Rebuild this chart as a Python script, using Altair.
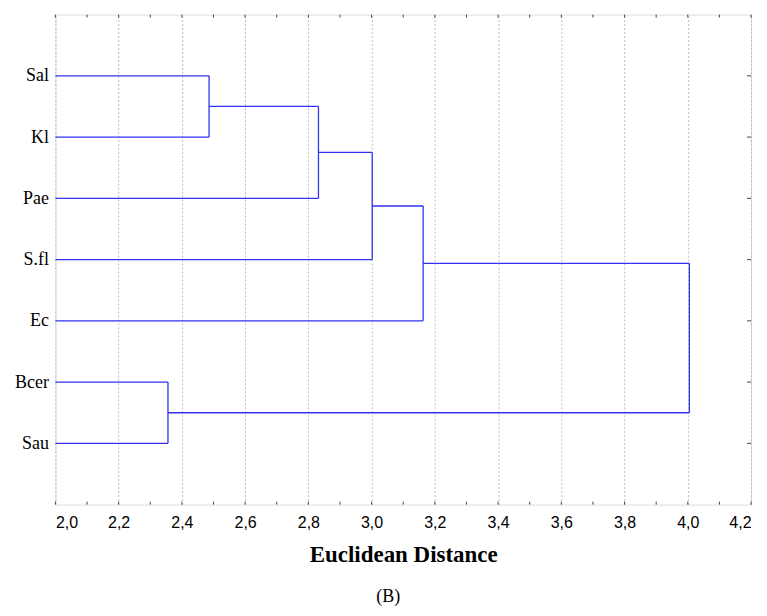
import altair as alt
import pandas as pd

# ---- data ----
leaves = ["Sal", "Kl", "Pae", "S.fl", "Ec", "Bcer", "Sau"]
merge_left = ["Sal", "C1", "C2", "C3", "Bcer", "C4"]
merge_right = ["Kl", "Pae", "S.fl", "Ec", "Sau", "C5"]
merge_height = [2.486, 2.832, 3.002, 3.163, 2.356, 4.005]

x_major_ticks = [2.0, 2.2, 2.4, 2.6, 2.8, 3.0, 3.2, 3.4, 3.6, 3.8, 4.0, 4.2]
x_minor_ticks = [2.0, 2.1, 2.2, 2.3, 2.4, 2.5, 2.6, 2.7, 2.8, 2.9, 3.0, 3.1,
                 3.2, 3.3, 3.4, 3.5, 3.6, 3.7, 3.8, 3.9, 4.0, 4.1, 4.2]
x_domain = [2.0, 4.2]
x_title = "Euclidean Distance"
caption = "(B)"

# ---- build dendrogram segments from the merge table ----
node = {name: (i + 1, x_domain[0]) for i, name in enumerate(leaves)}
segs = []
for k, (a, b, h) in enumerate(zip(merge_left, merge_right, merge_height)):
    ya, ha = node[a]
    yb, hb = node[b]
    segs.append(dict(x=ha, x2=h, y=ya, y2=ya))
    segs.append(dict(x=hb, x2=h, y=yb, y2=yb))
    segs.append(dict(x=h, x2=h, y=ya, y2=yb))
    node[f"C{k + 1}"] = ((ya + yb) / 2, h)
seg_df = pd.DataFrame(segs)

leaf_df = pd.DataFrame({"pos": list(range(1, len(leaves) + 1)), "name": leaves})
tick_df = pd.DataFrame({"t": x_minor_ticks})

W, H = 697, 491
label_arr = "[''," + ",".join(f"'{n}'" for n in leaves) + "]"

xscale = alt.Scale(domain=x_domain, nice=False, zero=False)
yscale = alt.Scale(domain=[0, len(leaves) + 1], reverse=True, nice=False, zero=False)

x_axis = alt.Axis(
    values=x_major_ticks,
    labelExpr="replace(format(datum.value, '.1f'), '.', ',')",
    grid=True, gridDash=[2, 2], gridColor="#bdbdbd", gridWidth=1,
    tickSize=0, domain=False,
    labelFont="Liberation Sans", labelFontSize=16, labelColor="black",
    labelPadding=10,
    title=x_title, titleFont="Liberation Serif", titleFontSize=23,
    titleFontWeight="bold", titleColor="black", titlePadding=13,
)
y_axis = alt.Axis(
    values=list(range(1, len(leaves) + 1)),
    labelExpr=f"{label_arr}[datum.value]",
    grid=False, tickSize=0, domain=False,
    labelFont="Liberation Serif", labelFontSize=18, labelColor="black",
    labelPadding=7, title=None,
)

lines = alt.Chart(seg_df).mark_rule(color="#3232f2", strokeWidth=1.3).encode(
    x=alt.X("x:Q", scale=xscale, axis=x_axis),
    x2="x2:Q",
    y=alt.Y("y:Q", scale=yscale, axis=y_axis),
    y2="y2:Q",
)

top_ticks = alt.Chart(tick_df).mark_rule(color="#444", strokeWidth=1).encode(
    x=alt.X("t:Q", scale=xscale), y=alt.value(0), y2=alt.value(3)
)
bottom_ticks = alt.Chart(tick_df).mark_rule(color="#444", strokeWidth=1).encode(
    x=alt.X("t:Q", scale=xscale), y=alt.value(H), y2=alt.value(H - 3)
)
right_ticks = alt.Chart(leaf_df).mark_rule(color="#444", strokeWidth=1).encode(
    y=alt.Y("pos:Q", scale=yscale), x=alt.value(W), x2=alt.value(W - 4)
)

chart = alt.layer(lines, top_ticks, bottom_ticks, right_ticks).properties(
    width=W, height=H,
    autosize=alt.AutoSizeParams(type="none"),
    padding={"left": 47.5, "top": 6, "right": 8, "bottom": 101},
    title=alt.TitleParams(caption, orient="bottom", anchor="middle",
                          font="Liberation Serif", fontSize=18,
                          fontWeight="normal", color="black", offset=22, dx=-15),
).configure_view(stroke="#444", strokeWidth=1.3).configure(background="white")

chart.save("out.html", embed_options={"renderer": "svg", "actions": False})
